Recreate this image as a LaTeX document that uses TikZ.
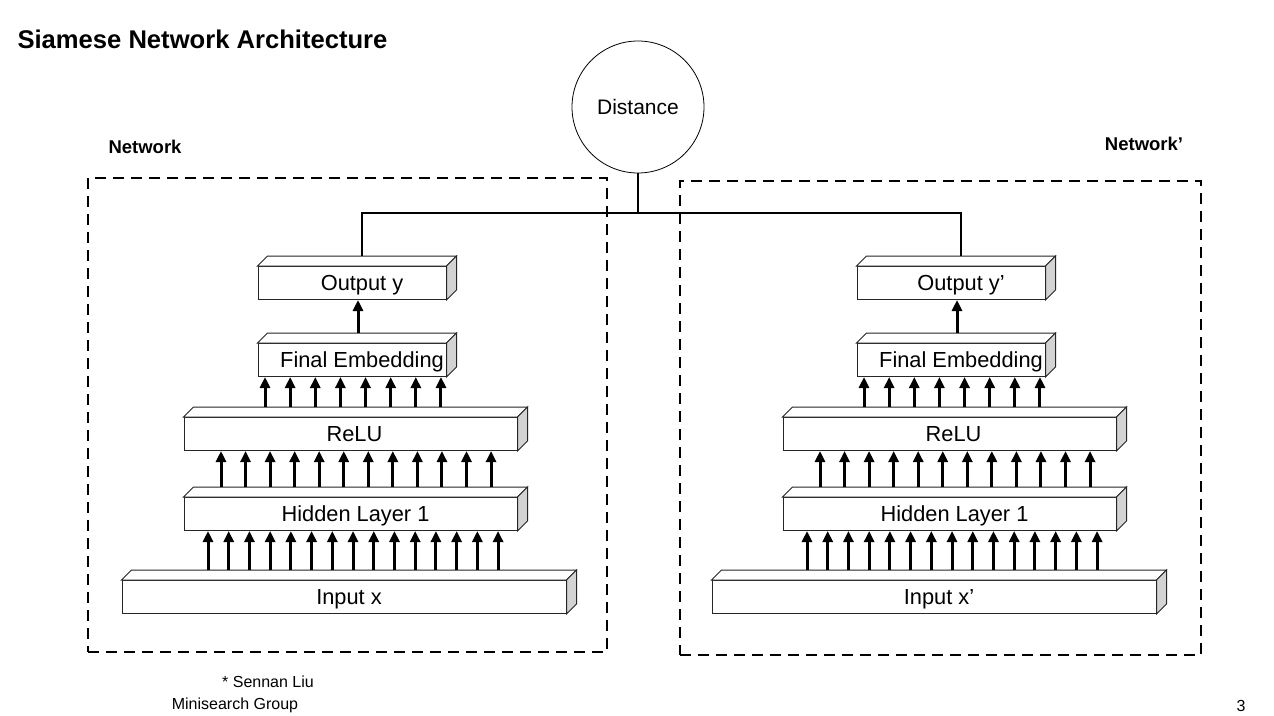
\documentclass[tikz,border=0pt]{standalone}
\usepackage{fontspec}
\setmainfont{Liberation Sans}
\usepackage{tikz}
\usetikzlibrary{arrows.meta}

\definecolor{sidegray}{HTML}{D3D3D3}

\tikzset{
  slab/.style={draw=black!85, line width=1pt, fill=white, minimum height=33pt,
    inner sep=0pt, text height=15.6pt, text depth=0pt, font=\fontsize{21.8}{24}\selectfont},
  face/.style={draw=black!85, line width=1pt},
  flow/.style={line width=3pt, -{Triangle[length=11pt,width=10pt]}},
  busline/.style={line width=2pt},
  netframe/.style={draw, dashed, line width=2.8pt, dash pattern=on 11pt off 7pt},
  netlabel/.style={font=\bfseries\fontsize{18.5}{21}\selectfont},
  footer/.style={font=\fontsize{16}{18}\selectfont}
}

% name, x, y, width, text shift, text
\newcommand{\slab}[6]{%
  \node[slab, minimum width=#4] (#1) at (#2,#3) {\hspace*{#5}#6};
  \draw[face, fill=white] (#1.north west) -- ++(10pt,10pt)
    -- ([shift={(10pt,10pt)}]#1.north east) -- (#1.north east) -- cycle;
  \draw[face, fill=sidegray] (#1.north east) -- ++(10pt,10pt)
    -- ([shift={(10pt,10pt)}]#1.south east) -- (#1.south east) -- cycle;
}

\begin{document}
\begin{tikzpicture}[x=1pt, y=-1pt]
\useasboundingbox (0,0) rectangle (1274,715);

\node[anchor=west, font=\bfseries\fontsize{25.6}{28}\selectfont] (title) at (14,39) {Siamese Network Architecture};

% the two twin networks
\node[netframe, minimum width=519pt, minimum height=474pt] (framel) at (347.5,415) {};
\node[netframe, minimum width=521pt, minimum height=474pt] (framer) at (940.5,418) {};
\node[netlabel] (namel) at (145,147) {Network};
\node[netlabel] (namer) at (1144,144) {Network’};

\foreach \s/\dx/\di/\p in {l/0/0/, r/599/590/’}{
  \slab{in\s}{344+\di}{597}{444pt}{10pt}{Input x\p}
  \slab{hid\s}{350.5+\dx}{514}{333pt}{10pt}{Hidden Layer 1}
  \slab{relu\s}{350.5+\dx}{434}{333pt}{8pt}{ReLU}
  \slab{emb\s}{352+\dx}{360}{188pt}{20pt}{Final Embedding}
  \slab{out\s}{352+\dx}{283}{188pt}{20pt}{Output y\p}

  % connections between layers
  \foreach \i in {0,...,14}{
    \coordinate (c) at ({208+\dx+20.72*\i},0);
    \draw[flow] ([yshift=10pt]in\s.north -| c) -- (hid\s.south -| c);
  }
  \foreach \i in {0,...,11}{
    \coordinate (c) at ({221+\dx+24.55*\i},0);
    \draw[flow] ([yshift=10pt]hid\s.north -| c) -- (relu\s.south -| c);
  }
  \foreach \i in {0,...,7}{
    \coordinate (c) at ({265+\dx+25.14*\i},0);
    \draw[flow] ([yshift=10pt]relu\s.north -| c) -- (emb\s.south -| c);
  }
  \draw[flow] ([xshift=6pt,yshift=10pt]emb\s.north) -- ([xshift=6pt]out\s.south);
}

% distance between the two outputs
\node[draw, circle, line width=0.8pt, minimum size=132pt, font=\fontsize{21}{24}\selectfont] (dist) at (638,107) {Distance};
\coordinate (bus) at (638,213);
\draw[busline] (dist.south) -- (bus);
\draw[busline] ([xshift=10pt,yshift=10pt]outl.north) |- (bus) -| ([xshift=10pt,yshift=10pt]outr.north);

\node[footer] (author) at (268,682) {* Sennan Liu};
\node[footer] (group) at (235,705) {Minisearch Group};
\node[footer] (page) at (1241,706) {3};
\end{tikzpicture}
\end{document}
